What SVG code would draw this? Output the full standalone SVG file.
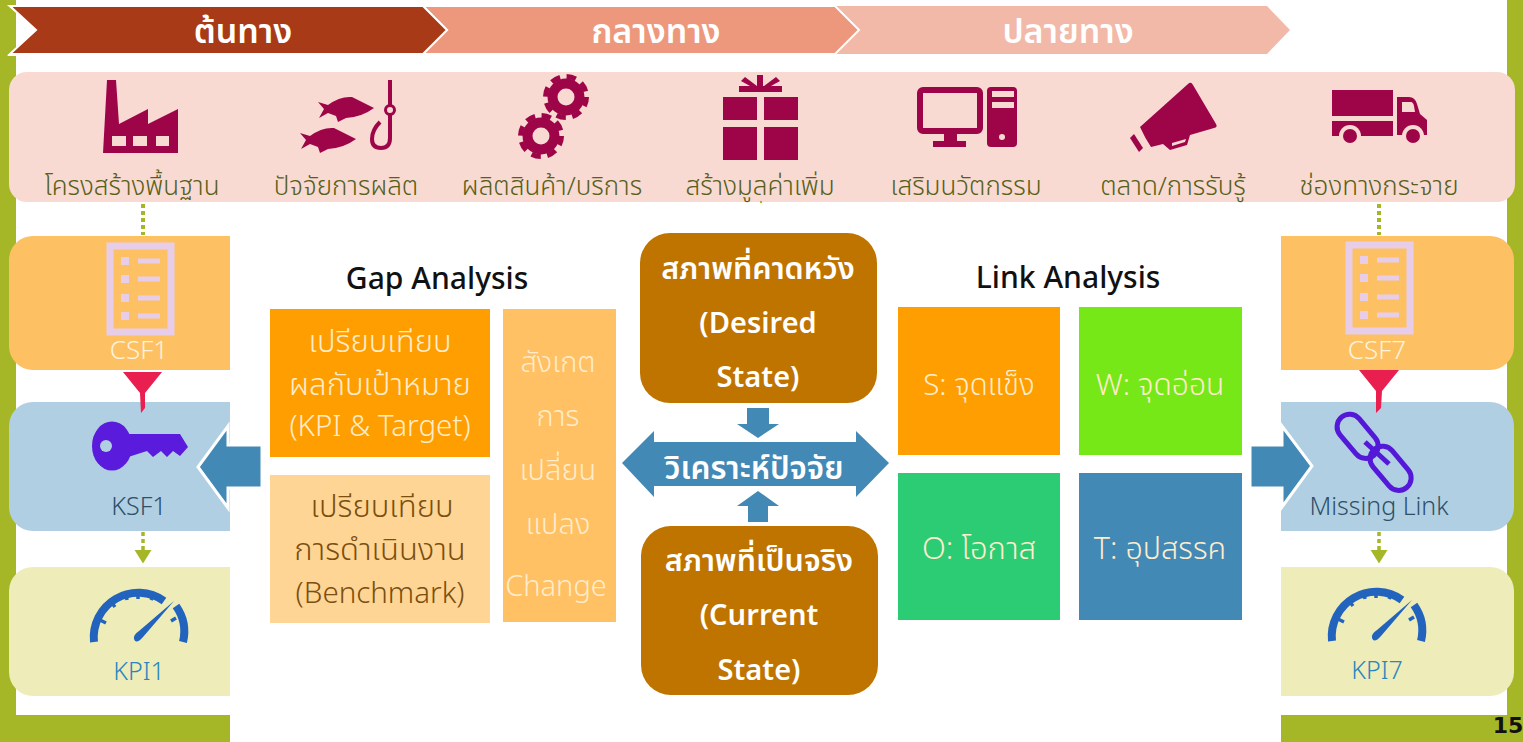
<svg xmlns="http://www.w3.org/2000/svg" xmlns:xlink="http://www.w3.org/1999/xlink" width="1523" height="742" viewBox="0 0 1523 742">
<style>
text{font-family:"Noto Sans Thai","Noto Sans","Open Sans","DejaVu Sans",sans-serif;text-anchor:middle}
.ttl{font-size:34px;font-weight:600;fill:#fff}
.top{font-size:26px;font-weight:300;fill:#566018}
.ic{fill:#9e0549}
.csf{fill:#fdc163}.ksf{fill:#b1cfe2}.kpi{fill:#eeecb8}
.sm{font-size:25px;font-weight:300}
.w27{font-size:31px;font-weight:300;fill:#ffeccd}
.lat{font-size:29.500px}
.gold{fill:#bf7400}
.gt{font-size:30.500px;font-weight:600;fill:#fff}
.gtl{font-size:29px;font-weight:600;fill:#fff}
.hd{font-size:30px;font-weight:500;fill:#111}
.blue{fill:#4389b5}
.dot{fill:none;stroke:#a5b726;stroke-width:4;stroke-dasharray:4 3}
.fun{fill:#e91f4f}
.g{fill:#2264bd}
</style>
<defs>
<marker id="ah" markerWidth="5" markerHeight="5" refX="3" refY="2.500" orient="auto"><path d="M0 0L4 2.500L0 5z" fill="#a5b726"/></marker>
<g id="gear"><circle r="18.500" class="ic"/><circle r="20.500" fill="none" stroke="#9e0549" stroke-width="5" stroke-dasharray="9.500 6.600"/><circle r="8.500" fill="#f8dad3"/></g>
<g id="list"><rect x="110" y="246" width="61" height="86" fill="none" stroke="#e8cde8" stroke-width="7"/><path d="M121 257h8v8h-8zM121 275h8v8h-8zM121 294h8v8h-8zM121 312h8v8h-8z" fill="#e8cde8"/><path d="M138 258.500h22v5h-22zM138 276.500h22v5h-22zM138 295.500h22v5h-22zM138 313.500h22v5h-22z" fill="#e8cde8"/></g>
<g id="gauge"><path d="M94 642A44.500 44.500 0 0 1 164 601" fill="none" stroke="#2264bd" stroke-width="8"/><path d="M176 606A44.500 44.500 0 0 1 183 642" fill="none" stroke="#2264bd" stroke-width="8"/><path d="M100 620l6 3M111 602l4 5M126 594l1 6M138 592v7M153 595l-2 5M176 618l-5 3" stroke="#2264bd" stroke-width="3.500" fill="none"/><path d="M174 601L143 637Q136 645 134 639Q133 635 139 631z" class="g"/></g>
</defs>

<g id="frame">
<rect x="0" y="0" width="16" height="742" fill="#a5b726"/>
<rect x="1507" y="0" width="16" height="742" fill="#a5b726"/>
<rect x="0" y="715" width="230" height="27" fill="#a5b726"/>
<rect x="1281" y="715" width="242" height="27" fill="#a5b726"/>
<text x="1508" y="733" style="font-family:'DejaVu Sans',sans-serif;font-size:22px;font-weight:700;fill:#111">15</text>
</g>

<g id="stage-3"><path d="M835 6H1267L1290 30L1267 54H835L859 30z" fill="#f3b9a8"/><text x="1068" y="43" class="ttl">ปลายทาง</text></g>
<g id="stage-2"><path d="M423 6H835L859 30L835 54H423L447 30z" fill="#ed987c" stroke="#fff" stroke-width="2"/><text x="656" y="43" class="ttl">กลางทาง</text></g>
<g id="stage-1"><path d="M7 5L36 30L7 56H20V5z" fill="#fff"/><path d="M10 6H423L447 30L423 54H10L36 30z" fill="#a83a17" stroke="#fff" stroke-width="2"/><text x="243" y="43" class="ttl">ต้นทาง</text></g>

<g id="value-chain">
<rect x="9" y="72" width="1506" height="130" rx="18" fill="#f8dad3"/>
<g id="n-infra"><path d="M103 153L107 80H116L119 124L148 109V124L178 109V153z" class="ic"/><path d="M112 136h14v10h-14zM133 136h14v10h-14zM156 136h13v10h-13z" fill="#f8dad3"/><text x="132" y="195" class="top">โครงสร้างพื้นฐาน</text></g>
<g id="n-factor"><path d="M318 102L328 105Q340 96 352 97L374 108Q362 117 346 118L338 122L336 116L328 113L319 118L324 109z" class="ic"/><path d="M300 133L310 136Q322 127 334 128L356 139Q344 148 328 149L320 153L318 147L310 144L301 149L306 140z" class="ic"/><path d="M390 80V138Q390 148 381 148Q372 148 372 139Q372 130 380 122" fill="none" stroke="#9e0549" stroke-width="4"/><circle cx="390" cy="110" r="4.500" fill="#f8dad3" stroke="#9e0549" stroke-width="3"/><text x="346" y="195" class="top">ปัจจัยการผลิต</text></g>
<g id="n-product"><use xlink:href="#gear" href="#gear" x="566" y="97"/><use xlink:href="#gear" href="#gear" x="541" y="136"/><text x="552" y="195" class="top">ผลิตสินค้า/บริการ</text></g>
<g id="n-value"><path d="M723 97h34v23h-34zM764 97h34v23h-34zM723 127h34v33h-34zM764 127h34v33h-34zM739 86h43v6h-43zM757 75h6v11h-6zM745 77l12 9h-7l-9-5zM776 77l-12 9h7l9-5z" class="ic"/><text x="760" y="195" class="top">สร้างมูลค่าเพิ่ม</text><circle cx="761" cy="202" r="1.200" fill="#a5b726"/></g>
<g id="n-innovation"><rect x="920" y="90" width="60" height="41" rx="3" fill="none" stroke="#9e0549" stroke-width="6"/><path d="M944 133h13v8h-13zM933 141h33v6h-33z" class="ic"/><rect x="987" y="87" width="30" height="60" rx="4" class="ic"/><path d="M992 91h22v6h-22zM992 102h22v6h-22z" fill="#f8dad3"/><circle cx="1002" cy="137" r="3" fill="#f8dad3"/><text x="966" y="195" class="top">เสริมนวัตกรรม</text></g>
<g id="n-market"><path d="M1140 127L1188 84Q1191 81 1193 85L1216 124Q1218 127 1214 128L1190 135L1187 145L1170 150L1163 144L1151 147Q1145 138 1140 127z" class="ic"/><path d="M1172 143L1186 139L1185 142L1172 146z" fill="#f8dad3"/><path d="M1130 138L1134 134L1143 148L1139 152z" class="ic"/><text x="1173" y="195" class="top">ตลาด/การรับรู้</text></g>
<g id="n-channel"><path d="M1332 90h61v26h-61zM1332 121h61v15h-61z" class="ic"/><path d="M1397 97h12q6 0 8 7l3 10 7 6v15h-30z" class="ic"/><path d="M1402 102h9q2 0 3 4l1 6h-13z" fill="#f8dad3"/><circle cx="1350" cy="136" r="11" fill="#f8dad3"/><circle cx="1413" cy="136" r="11" fill="#f8dad3"/><rect x="1339" y="136" width="22" height="8" fill="#f8dad3"/><rect x="1402" y="136" width="22" height="8" fill="#f8dad3"/><circle cx="1350" cy="136" r="7" class="ic"/><circle cx="1413" cy="136" r="7" class="ic"/><text x="1379" y="195" class="top">ช่องทางกระจาย</text></g>
</g>

<g id="csf1"><path d="M230 236H33a24 24 0 0 0-24 24V346a24 24 0 0 0 24 24H230z" class="csf"/><use xlink:href="#list" href="#list"/><text x="139" y="359" class="sm" style="font-size:26px" fill="#fff3dc">CSF1</text></g>
<g id="ksf1"><path d="M230 402H33a24 24 0 0 0-24 24V507a24 24 0 0 0 24 24H230z" class="ksf"/><ellipse cx="112" cy="446" rx="20" ry="24.500" fill="#5a1bdc"/><path d="M125 434H180L188 447L180 456L173 451L167 457L161 451L153 457L147 451L125 458z" fill="#5a1bdc"/><circle cx="106" cy="446" r="6" fill="#b1cfe2"/><text x="139" y="515" class="sm" fill="#2d5068">KSF1</text></g>
<g id="kpi1"><path d="M230 567H33a24 24 0 0 0-24 24V672a24 24 0 0 0 24 24H230z" class="kpi"/><use xlink:href="#gauge" href="#gauge"/><text x="139" y="680" class="sm" fill="#2a86c0">KPI1</text></g>
<g id="csf7"><path d="M1281 236H1490a24 24 0 0 1 24 24V346a24 24 0 0 1-24 24H1281z" class="csf"/><use xlink:href="#list" href="#list" x="1239" y="-1"/><text x="1377" y="359" class="sm" style="font-size:26px" fill="#fff3dc">CSF7</text></g>
<g id="missing"><path d="M1281 402H1490a24 24 0 0 1 24 24V507a24 24 0 0 1-24 24H1281z" class="ksf"/><g fill="none" stroke="#5418d8" stroke-width="5"><rect x="1333" y="424" width="50" height="25" rx="12.500" transform="rotate(50 1358 436)"/><rect x="1366" y="456" width="50" height="25" rx="12.500" transform="rotate(50 1391 468)"/><path d="M1365 442L1389 464" stroke-width="5"/></g><text x="1379" y="515" class="sm" fill="#2d5068">Missing Link</text></g>
<g id="kpi7"><path d="M1281 567H1490a24 24 0 0 1 24 24V672a24 24 0 0 1-24 24H1281z" class="kpi"/><use xlink:href="#gauge" href="#gauge" x="1238" y="-1"/><text x="1377" y="679" class="sm" fill="#2a86c0">KPI7</text></g>

<g id="gap-title"><text x="437" y="289" class="hd">Gap Analysis</text></g>
<g id="gap-kpi"><rect x="270" y="309" width="220" height="148" fill="#ff9e00"/><text class="w27"><tspan x="380" y="352">เปรียบเทียบ</tspan><tspan x="380" y="395">ผลกับเป้าหมาย</tspan><tspan x="380" y="436" class="lat">(KPI &amp; Target)</tspan></text></g>
<g id="gap-bench"><rect x="270" y="475" width="220" height="148" fill="#fed594"/><text class="w27" style="fill:#7a4f10"><tspan x="382" y="517">เปรียบเทียบ</tspan><tspan x="380" y="560">การดำเนินงาน</tspan><tspan x="380" y="603" class="lat">(Benchmark)</tspan></text></g>
<g id="gap-change"><rect x="503" y="309" width="113" height="313" fill="#ffc163"/><text class="w27" style="font-size:29px"><tspan x="558" y="372">สังเกต</tspan><tspan x="558" y="426">การ</tspan><tspan x="558" y="480">เปลี่ยน</tspan><tspan x="558" y="534">แปลง</tspan><tspan x="556" y="596" style="font-size:29px">Change</tspan></text></g>

<g id="desired"><rect x="640" y="233" width="237" height="170" rx="30" class="gold"/><text class="gt"><tspan x="758" y="279">สภาพที่คาดหวัง</tspan><tspan x="758" y="333" class="gtl">(Desired</tspan><tspan x="758" y="387" class="gtl">State)</tspan></text></g>
<g id="current"><rect x="641" y="526" width="237" height="169" rx="30" class="gold"/><text class="gt"><tspan x="759" y="571">สภาพที่เป็นจริง</tspan><tspan x="759" y="625" class="gtl">(Current</tspan><tspan x="759" y="680" class="gtl">State)</tspan></text></g>
<g id="analyze"><path d="M622 463L654 431V442H856V431L889 463L856 497V486H654V497z" class="blue"/><text x="754" y="479" style="font-size:31.500px;font-weight:600;fill:#fff">วิเคราะห์ปัจจัย</text></g>

<g id="link-title"><text x="1068" y="288" class="hd">Link Analysis</text></g>
<g id="swot-s"><rect x="898" y="307" width="162" height="148" fill="#ff9e00"/><text x="979" y="395" class="w27" style="font-size:29.500px">S: จุดแข็ง</text></g>
<g id="swot-w"><rect x="1079" y="307" width="163" height="148" fill="#76e817"/><text x="1160" y="395" class="w27" style="font-size:30px">W: จุดอ่อน</text></g>
<g id="swot-o"><rect x="898" y="473" width="162" height="147" fill="#2ccc74"/><text x="979" y="559" class="w27">O: โอกาส</text></g>
<g id="swot-t"><rect x="1079" y="473" width="163" height="147" class="blue"/><text x="1160" y="559" class="w27" style="font-size:30.500px">T: อุปสรรค</text></g>

<g id="connectors">
<path d="M143 204V235" class="dot"/>
<path d="M1379 204V235" class="dot"/>
<path d="M143 532V560" class="dot" marker-end="url(#ah)" style="stroke-width:3.500"/>
<path d="M1379 532V560" class="dot" marker-end="url(#ah)" style="stroke-width:3.500"/>
<path d="M123 372H162L145 393L145 408L141 413L140 393z" class="fun"/>
<path d="M1359 370H1399L1382 391L1381 408L1376 413L1376 391z" class="fun"/>
<path d="M747 408H769V424H779L758 438L737 424H747z" class="blue"/>
<path d="M748 522H768V506H779L758 491L737 506H748z" class="blue"/>
<path d="M262 445V488H228V508L198 467L228 426V445z" class="blue" stroke="#fff" stroke-width="3"/>
<path d="M1250 445H1282V426L1312 466L1282 507V488H1250z" class="blue" stroke="#fff" stroke-width="3"/>
</g>
</svg>
